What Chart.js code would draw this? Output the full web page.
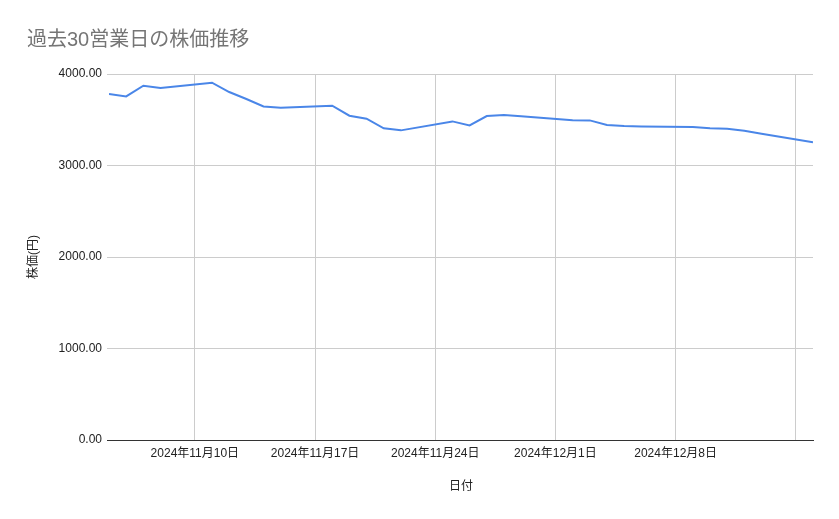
<!DOCTYPE html>
<html lang="ja">
<head>
<meta charset="utf-8">
<title>過去30営業日の株価推移</title>
<script src="https://cdn.jsdelivr.net/npm/chart.js@4.4.1/dist/chart.umd.min.js"></script>
<style>
    html, body { margin: 0; padding: 0; background: #fff; }
    canvas { display: block; }
</style>
</head>
<body>
<canvas id="stockChart" width="839" height="519"></canvas>
<script>
// Business days shown in the chart (weekends are skipped, the line joins Fri -> Mon)
const dates = [
    '2024-11-05', '2024-11-06', '2024-11-07', '2024-11-08',
    '2024-11-11', '2024-11-12', '2024-11-13', '2024-11-14', '2024-11-15',
    '2024-11-18', '2024-11-19', '2024-11-20', '2024-11-21', '2024-11-22',
    '2024-11-25', '2024-11-26', '2024-11-27', '2024-11-28', '2024-11-29',
    '2024-12-02', '2024-12-03', '2024-12-04', '2024-12-05', '2024-12-06',
    '2024-12-09', '2024-12-10', '2024-12-11', '2024-12-12', '2024-12-13',
    '2024-12-16'
];

// Closing price (円)
const prices = [
    3781, 3755, 3872, 3847,
    3905, 3803, 3727, 3646, 3632,
    3653, 3544, 3511, 3406, 3384,
    3482, 3438, 3541, 3552, 3537,
    3495, 3493, 3443, 3432, 3427,
    3421, 3406, 3402, 3380, 3348,
    3253
];

// Weekly gridlines (Sundays) and their labels
const tickDates = ['2024-11-10', '2024-11-17', '2024-11-24', '2024-12-01', '2024-12-08', '2024-12-15'];
const tickLabels = ['2024年11月10日', '2024年11月17日', '2024年11月24日', '2024年12月1日', '2024年12月8日', ''];

const yTicks = [0, 1000, 2000, 3000, 4000];

const TITLE = '過去30営業日の株価推移';
const X_TITLE = '日付';
const Y_TITLE = '株価(円)';

const FONT = "'Liberation Sans', Arial, 'Noto Sans CJK JP', sans-serif";
const COLORS = {
    line: '#4a86e8',
    grid: '#cccccc',
    axis: '#333333',
    text: '#222222',
    title: '#757575'
};

function dayOffset(s) {
    return (Date.parse(s) - Date.parse(dates[0])) / 86400000;
}

// Draw the chart title at the top-left like Google Sheets does
const titlePlugin = {
    id: 'sheetTitle',
    afterDraw(chart) {
        const ctx = chart.ctx;
        ctx.save();
        ctx.font = "20px 'Liberation Sans', Arial, 'Noto Sans CJK JP', sans-serif";
        ctx.fillStyle = COLORS.title;
        ctx.textAlign = 'left';
        ctx.textBaseline = 'middle';
        ctx.fillText(TITLE, 27, 40);
        ctx.restore();
    }
};

const ctx = document.getElementById('stockChart');

new Chart(ctx.getContext('2d'), {
    type: 'line',
    data: {
        datasets: [{
            label: Y_TITLE,
            data: dates.map((d, i) => ({ x: dayOffset(d), y: prices[i] })),
            borderColor: COLORS.line,
            backgroundColor: COLORS.line,
            borderWidth: 2,
            pointRadius: 0,
            tension: 0,
            fill: false
        }]
    },
    options: {
        responsive: false,
        animation: false,
        layout: {
            padding: { left: 0, right: 26, top: 74, bottom: 0 }
        },
        plugins: {
            legend: { display: false },
            tooltip: { enabled: false }
        },
        scales: {
            x: {
                type: 'linear',
                min: 0,
                max: dayOffset(dates[dates.length - 1]),
                afterBuildTicks: scale => {
                    scale.ticks = tickDates.map(d => ({ value: dayOffset(d) }));
                },
                afterFit: scale => { scale.height = 79; },
                ticks: {
                    autoSkip: false,
                    maxRotation: 0,
                    padding: 6,
                    color: COLORS.text,
                    font: { family: FONT, size: 12 },
                    callback: (value, index) => tickLabels[index]
                },
                grid: {
                    color: COLORS.grid,
                    drawTicks: false
                },
                border: {
                    display: true,
                    color: COLORS.axis,
                    width: 1
                },
                title: {
                    display: true,
                    text: X_TITLE,
                    color: COLORS.text,
                    font: { family: FONT, size: 12 },
                    padding: { top: 0, bottom: 25 }
                }
            },
            y: {
                min: 0,
                max: 4000,
                afterBuildTicks: scale => {
                    scale.ticks = yTicks.map(v => ({ value: v }));
                },
                afterFit: scale => { scale.width = 109; },
                ticks: {
                    padding: 5,
                    color: COLORS.text,
                    font: { family: FONT, size: 12 },
                    callback: value => value.toFixed(2)
                },
                grid: {
                    color: c => (c.tick && c.tick.value === 0 ? COLORS.axis : COLORS.grid),
                    tickLength: 2
                },
                border: { display: false },
                title: {
                    display: true,
                    text: Y_TITLE,
                    color: COLORS.text,
                    font: { family: FONT, size: 12 },
                    padding: { top: 26, bottom: 0 }
                }
            }
        }
    },
    plugins: [titlePlugin]
});
</script>
</body>
</html>
